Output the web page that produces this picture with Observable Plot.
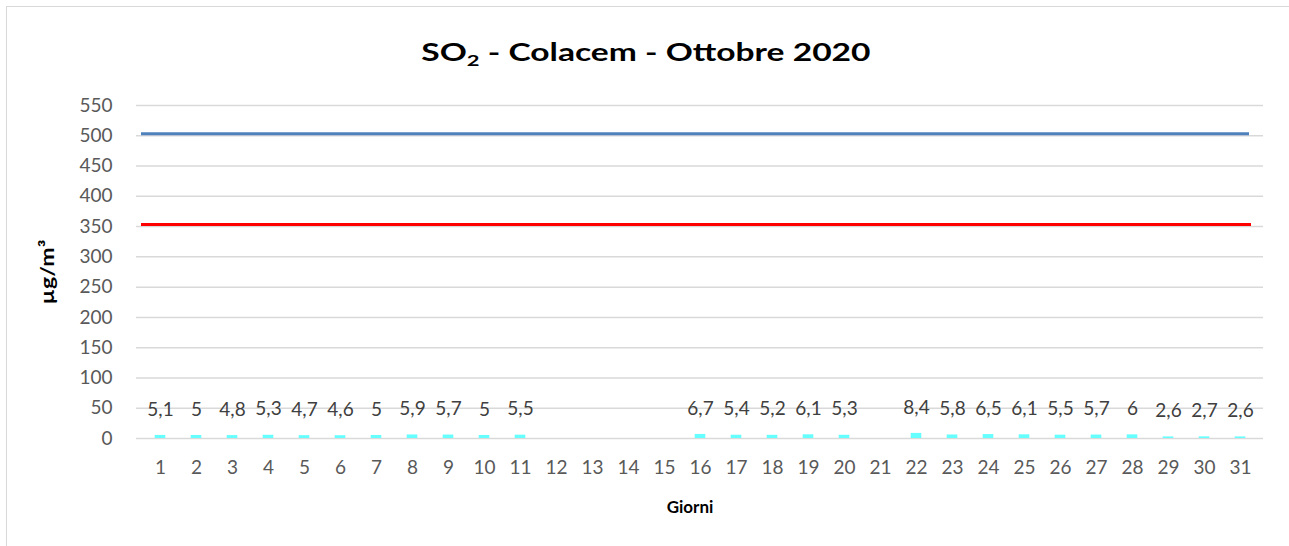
<!DOCTYPE html>
<html>
<head>
<meta charset="utf-8">
<script src="https://cdn.jsdelivr.net/npm/d3@7"></script>
<script src="https://cdn.jsdelivr.net/npm/@observablehq/plot@0.6"></script>
<style>
  html, body { margin: 0; padding: 0; background: #fff; overflow: hidden; }
  #frame { position: absolute; left: 6px; top: 6px; width: 1400px; height: 700px; border: 1.5px solid #d9d9d9; box-sizing: border-box; }
  #title { position: absolute; left: 0; width: 1292px; top: 36px; text-align: center; font-family: Lato, "Open Sans", sans-serif; font-weight: bold; font-size: 24.5px; line-height: 32px; color: #000; }
  #title span { display: inline-block; transform: scaleX(1.37); transform-origin: center; }
  #title sub { font-size: 16px; vertical-align: -5px; line-height: 0; }
  #ylabel { position: absolute; left: 47px; top: 272px; width: 0; height: 0; }
  #ylabel span { position: absolute; left: 0; top: 0; transform: translate(-50%, -50%) rotate(-90deg) scaleX(1.22); white-space: nowrap; font-family: Lato, "Open Sans", sans-serif; font-weight: bold; font-size: 19px; line-height: 20px; color: #000; }
  #chart { position: absolute; left: 0; top: 80px; }
</style>
</head>
<body>
<div id="frame"></div>
<div id="chart"></div>
<div id="title"><span>SO<sub>2</sub> - Colacem - Ottobre 2020</span></div>
<div id="ylabel"><span></span></div>
<script>
const days = d3.range(1, 32);
const values = [5.1, 5, 4.8, 5.3, 4.7, 4.6, 5, 5.9, 5.7, 5, 5.5, null, null, null, null,
                6.7, 5.4, 5.2, 6.1, 5.3, null, 8.4, 5.8, 6.5, 6.1, 5.5, 5.7, 6, 2.6, 2.7, 2.6];
const yTicks = [0, 50, 100, 150, 200, 250, 300, 350, 400, 450, 500, 550];
const alertThreshold = 500;
const limitValue = 350;
const yLabel = "µg/m³";
const xLabel = "Giorni";

const data = days.map((d, i) => ({day: d, value: values[i]}));
const present = data.filter(d => d.value != null);
const fmt = v => String(v).replace(".", ",");

const font = "Lato, 'Open Sans', sans-serif";

document.querySelector("#ylabel span").textContent = yLabel;

const chart = Plot.plot({
  width: 1289,
  height: 466,
  marginLeft: 136,
  marginRight: 26,
  marginTop: 25,
  marginBottom: 108,
  style: {fontFamily: font, fontSize: "19px", color: "#595959", background: "transparent"},
  x: {type: "band", domain: days, padding: 0},
  y: {domain: [0, 550]},
  marks: [
    Plot.ruleY(yTicks, {stroke: "#d9d9d9", strokeWidth: 1.5}),
    Plot.axisY(yTicks, {tickSize: 0, tickPadding: 24, label: null, fontSize: 19, fill: "#595959"}),
    Plot.axisX(days, {tickSize: 0, tickPadding: 22, label: null, fontSize: 19, fill: "#595959"}),
    Plot.barY(present, {x: "day", y: "value", fill: "#66ffff", insetLeft: 12.7, insetRight: 12.7}),
    Plot.text(present, {x: "day", y: "value", text: d => fmt(d.value), dy: -26, fontSize: 19, fill: "#404040", lineAnchor: "middle"}),
    Plot.ruleY([alertThreshold], {stroke: "#4f81bd", strokeWidth: 3, insetLeft: 5, insetRight: 14, dy: -2}),
    Plot.ruleY([limitValue], {stroke: "#ff0000", strokeWidth: 3, insetLeft: 5, insetRight: 12, dy: -2}),
    Plot.text([xLabel], {frameAnchor: "bottom", dx: -10, dy: 69, fontWeight: "bold", fontSize: 17, fill: "#000", lineAnchor: "middle"})
  ]
});
document.getElementById("chart").appendChild(chart);
</script>
</body>
</html>
